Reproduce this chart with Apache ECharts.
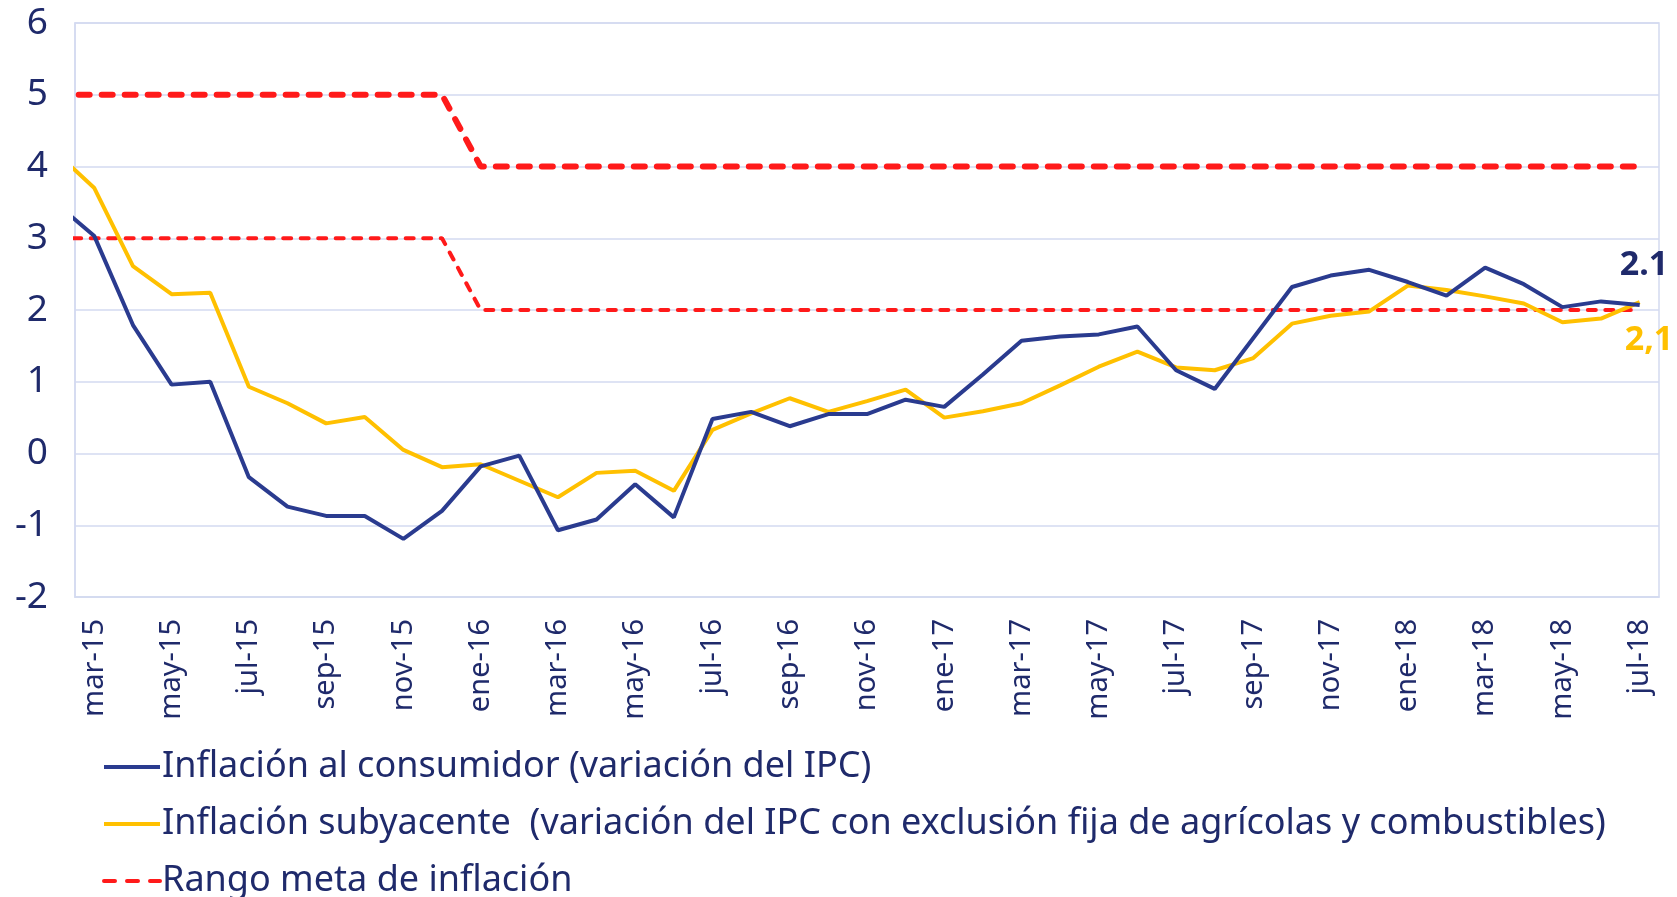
<!DOCTYPE html>
<html>
<head>
<meta charset="utf-8">
<script src="https://cdn.jsdelivr.net/npm/echarts@6/dist/echarts.min.js"></script>
<style>
    html, body { margin: 0; padding: 0; background: #fff; }
    #main { width: 1677px; height: 897px; }
</style>
</head>
<body>
<div id="main"></div>
<script>
    // meses (feb-15 queda fuera del área, solo se ve el tramo recortado)
    var months = ['feb-15', 'mar-15', 'abr-15', 'may-15', 'jun-15', 'jul-15', 'ago-15', 'sep-15', 'oct-15', 'nov-15', 'dic-15',
        'ene-16', 'feb-16', 'mar-16', 'abr-16', 'may-16', 'jun-16', 'jul-16', 'ago-16', 'sep-16', 'oct-16', 'nov-16', 'dic-16',
        'ene-17', 'feb-17', 'mar-17', 'abr-17', 'may-17', 'jun-17', 'jul-17', 'ago-17', 'sep-17', 'oct-17', 'nov-17', 'dic-17',
        'ene-18', 'feb-18', 'mar-18', 'abr-18', 'may-18', 'jun-18', 'jul-18'];

    var ipc = [3.49, 3.03, 1.79, 0.96, 1.00, -0.33, -0.74, -0.87, -0.87, -1.19, -0.80,
        -0.18, -0.03, -1.07, -0.92, -0.43, -0.89, 0.48, 0.58, 0.38, 0.55, 0.55, 0.75,
        0.65, 1.10, 1.57, 1.63, 1.66, 1.77, 1.16, 0.90, 1.61, 2.32, 2.48, 2.56,
        2.39, 2.20, 2.59, 2.36, 2.04, 2.12, 2.07];

    var subyacente = [4.20, 3.70, 2.61, 2.22, 2.24, 0.93, 0.70, 0.42, 0.51, 0.05, -0.19,
        -0.15, -0.38, -0.61, -0.27, -0.24, -0.52, 0.33, 0.56, 0.77, 0.58, 0.73, 0.89,
        0.50, 0.59, 0.70, 0.95, 1.21, 1.42, 1.20, 1.16, 1.33, 1.81, 1.92, 1.98,
        2.34, 2.28, 2.19, 2.09, 1.83, 1.88, 2.11];

    var metaSup = [5, 5, 5, 5, 5, 5, 5, 5, 5, 5, 5,
        4, 4, 4, 4, 4, 4, 4, 4, 4, 4, 4, 4,
        4, 4, 4, 4, 4, 4, 4, 4, 4, 4, 4, 4,
        4, 4, 4, 4, 4, 4, 4];

    var metaInf = [3, 3, 3, 3, 3, 3, 3, 3, 3, 3, 3,
        2, 2, 2, 2, 2, 2, 2, 2, 2, 2, 2, 2,
        2, 2, 2, 2, 2, 2, 2, 2, 2, 2, 2, 2,
        2, 2, 2, 2, 2, 2, 2];

    var labelTicks = [0, 2, 4, 6, 8, 10, 12, 14, 16, 18, 20, 22, 24, 26, 28, 30, 32, 34, 36, 38, 40];

    var textColor = '#1F2A6B';
    var gridColor = '#D3DAF0';
    var font = 'Noto Sans';

    function pairs(ary) {
        return ary.map(function (v, i) { return [i - 1, v]; });
    }

    var my_chart = echarts.init(document.getElementById('main'), null, { renderer: 'canvas' });
    var option = {
        animation: false,
        textStyle: { fontFamily: font, color: textColor },
        grid: {
            left: 75, right: 18, top: 23, height: 574,
            show: true, borderColor: gridColor, borderWidth: 1.5,
            containLabel: false
        },
        legend: {
            orient: 'vertical',
            left: 102,
            top: 749,
            height: 200,
            padding: 0,
            itemWidth: 56,
            itemHeight: 14,
            itemGap: 21,
            itemStyle: { opacity: 0 },
            lineStyle: { width: 4 },
            data: ['Inflación al consumidor (variación del IPC)',
                'Inflación subyacente  (variación del IPC con exclusión fija de agrícolas y combustibles)',
                'Rango meta de inflación'],
            textStyle: { fontFamily: font, fontSize: 36, lineHeight: 34, color: textColor, padding: [0, 0, 0, -3] }
        },
        xAxis: {
            type: 'value',
            min: -0.5,
            max: 40.5,
            axisLine: { show: true, onZero: false, lineStyle: { color: gridColor, width: 1.5 } },
            axisTick: { show: false },
            splitLine: { show: false },
            axisLabel: {
                customValues: labelTicks,
                rotate: 90,
                margin: 22,
                fontSize: 29,
                fontFamily: font,
                color: textColor,
                formatter: function (v) { return months[Math.round(v) + 1] || ''; }
            }
        },
        yAxis: {
            type: 'value',
            min: -2,
            max: 6,
            interval: 1,
            axisLine: { show: true, onZero: false, lineStyle: { color: gridColor, width: 1.5 } },
            axisTick: { show: false },
            splitLine: { lineStyle: { color: gridColor, width: 1.5 } },
            axisLabel: { fontSize: 37, fontFamily: font, color: textColor, margin: 27 }
        },
        series: [
            {
                name: 'Rango meta de inflación',
                type: 'line',
                data: pairs(metaSup),
                showSymbol: false,
                symbol: 'none',
                z: 1,
                lineStyle: { color: '#FF1A1A', width: 6, type: [11, 12], cap: 'round' },
                itemStyle: { color: '#FF1A1A' }
            },
            {
                name: 'Rango meta de inflación',
                type: 'line',
                data: pairs(metaInf),
                showSymbol: false,
                symbol: 'none',
                z: 1,
                lineStyle: { color: '#FF1A1A', width: 4, type: [8, 9.5], cap: 'round' },
                itemStyle: { color: '#FF1A1A' }
            },
            {
                name: 'Inflación subyacente  (variación del IPC con exclusión fija de agrícolas y combustibles)',
                type: 'line',
                data: pairs(subyacente),
                showSymbol: false,
                symbol: 'none',
                z: 2,
                lineStyle: { color: '#FFC000', width: 4 },
                itemStyle: { color: '#FFC000' },
                endLabel: {
                    show: true,
                    offset: [-23, 38],
                    fontSize: 34,
                    fontWeight: 'bold',
                    fontFamily: font,
                    color: '#FFC000',
                    formatter: function (p) { return p.value[1].toFixed(1).replace('.', ','); }
                }
            },
            {
                name: 'Inflación al consumidor (variación del IPC)',
                type: 'line',
                data: pairs(ipc),
                showSymbol: false,
                symbol: 'none',
                z: 3,
                lineStyle: { color: '#2A3B8F', width: 4 },
                itemStyle: { color: '#2A3B8F' },
                endLabel: {
                    show: true,
                    offset: [-28, -40],
                    fontSize: 34,
                    fontWeight: 'bold',
                    fontFamily: font,
                    color: textColor,
                    formatter: function (p) { return p.value[1].toFixed(1); }
                }
            }
        ]
    };

    my_chart.setOption(option);
</script>
</body>
</html>
